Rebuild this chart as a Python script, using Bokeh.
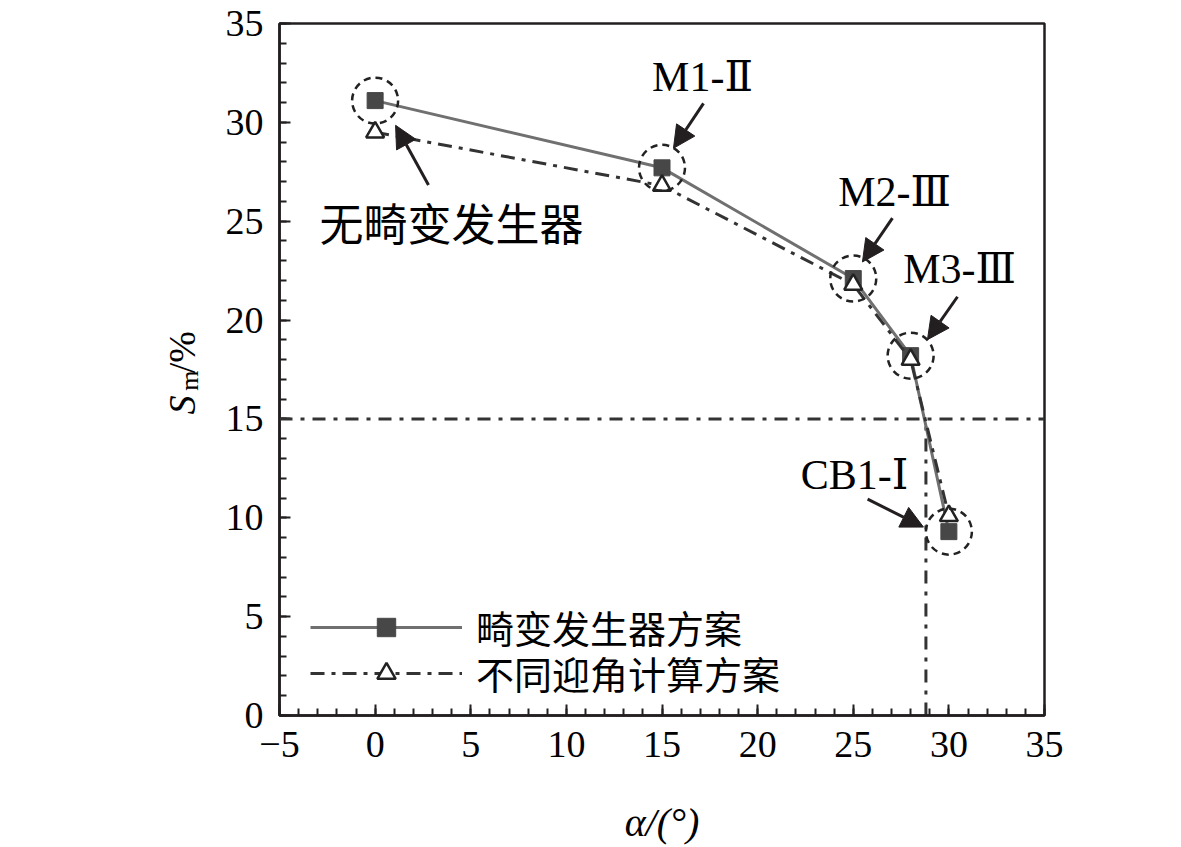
from math import pi
from bokeh.plotting import figure
from bokeh.layouts import row
from bokeh.core.properties import value
from bokeh.models import (Range1d, SingleIntervalTicker, Span, Label, Arrow,
                          NormalHead, Legend, LegendItem)
from bokeh.embed import file_html
from bokeh.resources import INLINE

# ---------------- data ----------------
alpha = [0, 15, 25, 28, 30]
sm_vg = [31.1, 27.7, 22.1, 18.2, 9.3]      # 畸变发生器方案
sm_aoa = [29.5, 26.8, 21.8, 18.0, 10.1]    # 不同迎角计算方案
limit_sm = 15.0
limit_alpha = 28.8
series_names = ["畸变发生器方案", "不同迎角计算方案"]
point_labels = ["M1-Ⅱ", "M2-Ⅲ", "M3-Ⅲ", "CB1-Ⅰ"]
x_title = "α/(°)"
y_title_parts = ["S", "m", "/%"]

LAT = "Liberation Serif"
MIX = "Liberation Serif, DejaVu Serif, Noto Sans CJK SC"
CJK = "Noto Sans CJK SC"
INK = "#231f20"

H = 847
HQ = 831
YLAB_W = 205

# ---------------- main plot ----------------
p = figure(width=1165 - YLAB_W, height=H, x_range=Range1d(-5, 35), y_range=Range1d(0, 35),
           output_backend="svg", toolbar_location=None,
           min_border_left=279 - YLAB_W, min_border_right=121,
           min_border_top=23, min_border_bottom=H - 717)
p.grid.visible = False
p.outline_line_color = INK
p.outline_line_width = 2.5
p.background_fill_color = "white"
p.border_fill_color = "white"

for ax in (p.xaxis, p.yaxis):
    ax.ticker = SingleIntervalTicker(interval=5, num_minor_ticks=5)
    ax.axis_line_color = INK
    ax.axis_line_width = 2.5
    ax.major_tick_in = 11
    ax.major_tick_out = 0
    ax.minor_tick_in = 7
    ax.minor_tick_out = 0
    ax.major_tick_line_color = INK
    ax.minor_tick_line_color = INK
    ax.major_tick_line_width = 2
    ax.minor_tick_line_width = 2
    ax.major_label_text_font = LAT
    ax.major_label_text_font_size = "38px"
    ax.major_label_text_color = "black"
    ax.major_label_standoff = 16
p.xaxis.major_label_overrides = {-5: "−5"}
p.xaxis.axis_label = x_title
p.xaxis.axis_label_text_font = LAT
p.xaxis.axis_label_text_font_style = "italic"
p.xaxis.axis_label_text_font_size = "40px"
p.xaxis.axis_label_text_color = "black"
p.xaxis.axis_label_standoff = 40

# reference lines
p.add_layout(Span(location=limit_sm, dimension="width", line_color="#333333",
                  line_width=3, line_dash="13 8 4 8"))
p.segment(x0=[limit_alpha], y0=[0], x1=[limit_alpha], y1=[limit_sm],
          line_color="#333333", line_width=3, line_dash="13 8 4 8")

# series
l1 = p.line(alpha, sm_vg, line_color="#707070", line_width=3)
s1 = p.scatter(alpha, sm_vg, marker="square", size=16, fill_color="#474747",
               line_color="#474747")
l2 = p.line(alpha, sm_aoa, line_color="#333333", line_width=3, line_dash="14 7 4 7")
s2 = p.scatter(alpha, sm_aoa, marker="triangle", size=18, fill_color="white",
               line_color="#222222", line_width=2.5)

# dashed circles around the vortex generator points
p.scatter(alpha, sm_vg, marker="circle", size=46, fill_alpha=0, line_color="#222222",
          line_width=2.5, line_dash="7 5")

# legends (one per row for exact spacing)
common = dict(glyph_width=152, glyph_height=46, label_height=46, label_standoff=14,
              label_text_font=CJK, label_text_font_size="38px", label_text_color="black",
              padding=0, margin=0, spacing=0, border_line_color=None,
              background_fill_alpha=0)
p.add_layout(Legend(items=[LegendItem(label=series_names[0], renderers=[l1, s1])],
                    location=(31, 61), **common))
p.add_layout(Legend(items=[LegendItem(label=series_names[1], renderers=[l2, s2])],
                    location=(31, 15), **common))

# annotations
def arrow(xs, ys, xe, ye):
    p.add_layout(Arrow(x_start=xs, y_start=ys, x_end=xe, y_end=ye, line_color=INK,
                       line_width=3, end=NormalHead(size=22, fill_color=INK, line_color=INK)))

def label(x, y, t, font, size="42px"):
    p.add_layout(Label(x=x, y=y, text=t, text_font=font, text_font_size=size,
                       text_align="center", text_baseline="middle", text_color="black"))

label(3.99, 24.96, "无畸变发生器", CJK, "44px")
arrow(2.79, 26.83, 1.07, 29.85)
label(17.12, 32.3, point_labels[0], MIX)
arrow(17.17, 30.96, 15.6, 28.69)
label(27.16, 26.5, point_labels[1], MIX)
arrow(27.05, 25.16, 25.48, 22.94)
label(30.56, 22.6, point_labels[2], MIX)
arrow(30.45, 21.18, 28.88, 19.01)
label(25.07, 12.15, point_labels[3], MIX)
arrow(25.75, 10.94, 28.67, 9.53)

# ---------------- y-axis title strip (mixed styles) ----------------
q = figure(width=YLAB_W, height=HQ, x_range=Range1d(0, YLAB_W), y_range=Range1d(0, HQ),
           output_backend="svg", toolbar_location=None, x_axis_type=None, y_axis_type=None,
           min_border=0, min_border_left=0, min_border_right=0, min_border_top=0,
           min_border_bottom=0)
q.grid.visible = False
q.outline_line_color = None
q.background_fill_color = "white"
q.border_fill_color = "white"
q.text(x=[181], y=[362], text=[y_title_parts[0]], angle=pi / 2, text_align="center",
       text_baseline="middle", text_font=value(LAT), text_font_size=value("38px"),
       text_font_style="italic", text_color="black")
q.text(x=[189], y=[392], text=[y_title_parts[1]], angle=pi / 2, text_align="center",
       text_baseline="middle", text_font=value(LAT), text_font_size=value("26px"),
       text_color="black")
q.text(x=[181], y=[427], text=[y_title_parts[2]], angle=pi / 2, text_align="center",
       text_baseline="middle", text_font=value(LAT), text_font_size=value("38px"),
       text_color="black")

layout = row(q, p, spacing=0)
open("out.html", "w").write(file_html(layout, INLINE))
